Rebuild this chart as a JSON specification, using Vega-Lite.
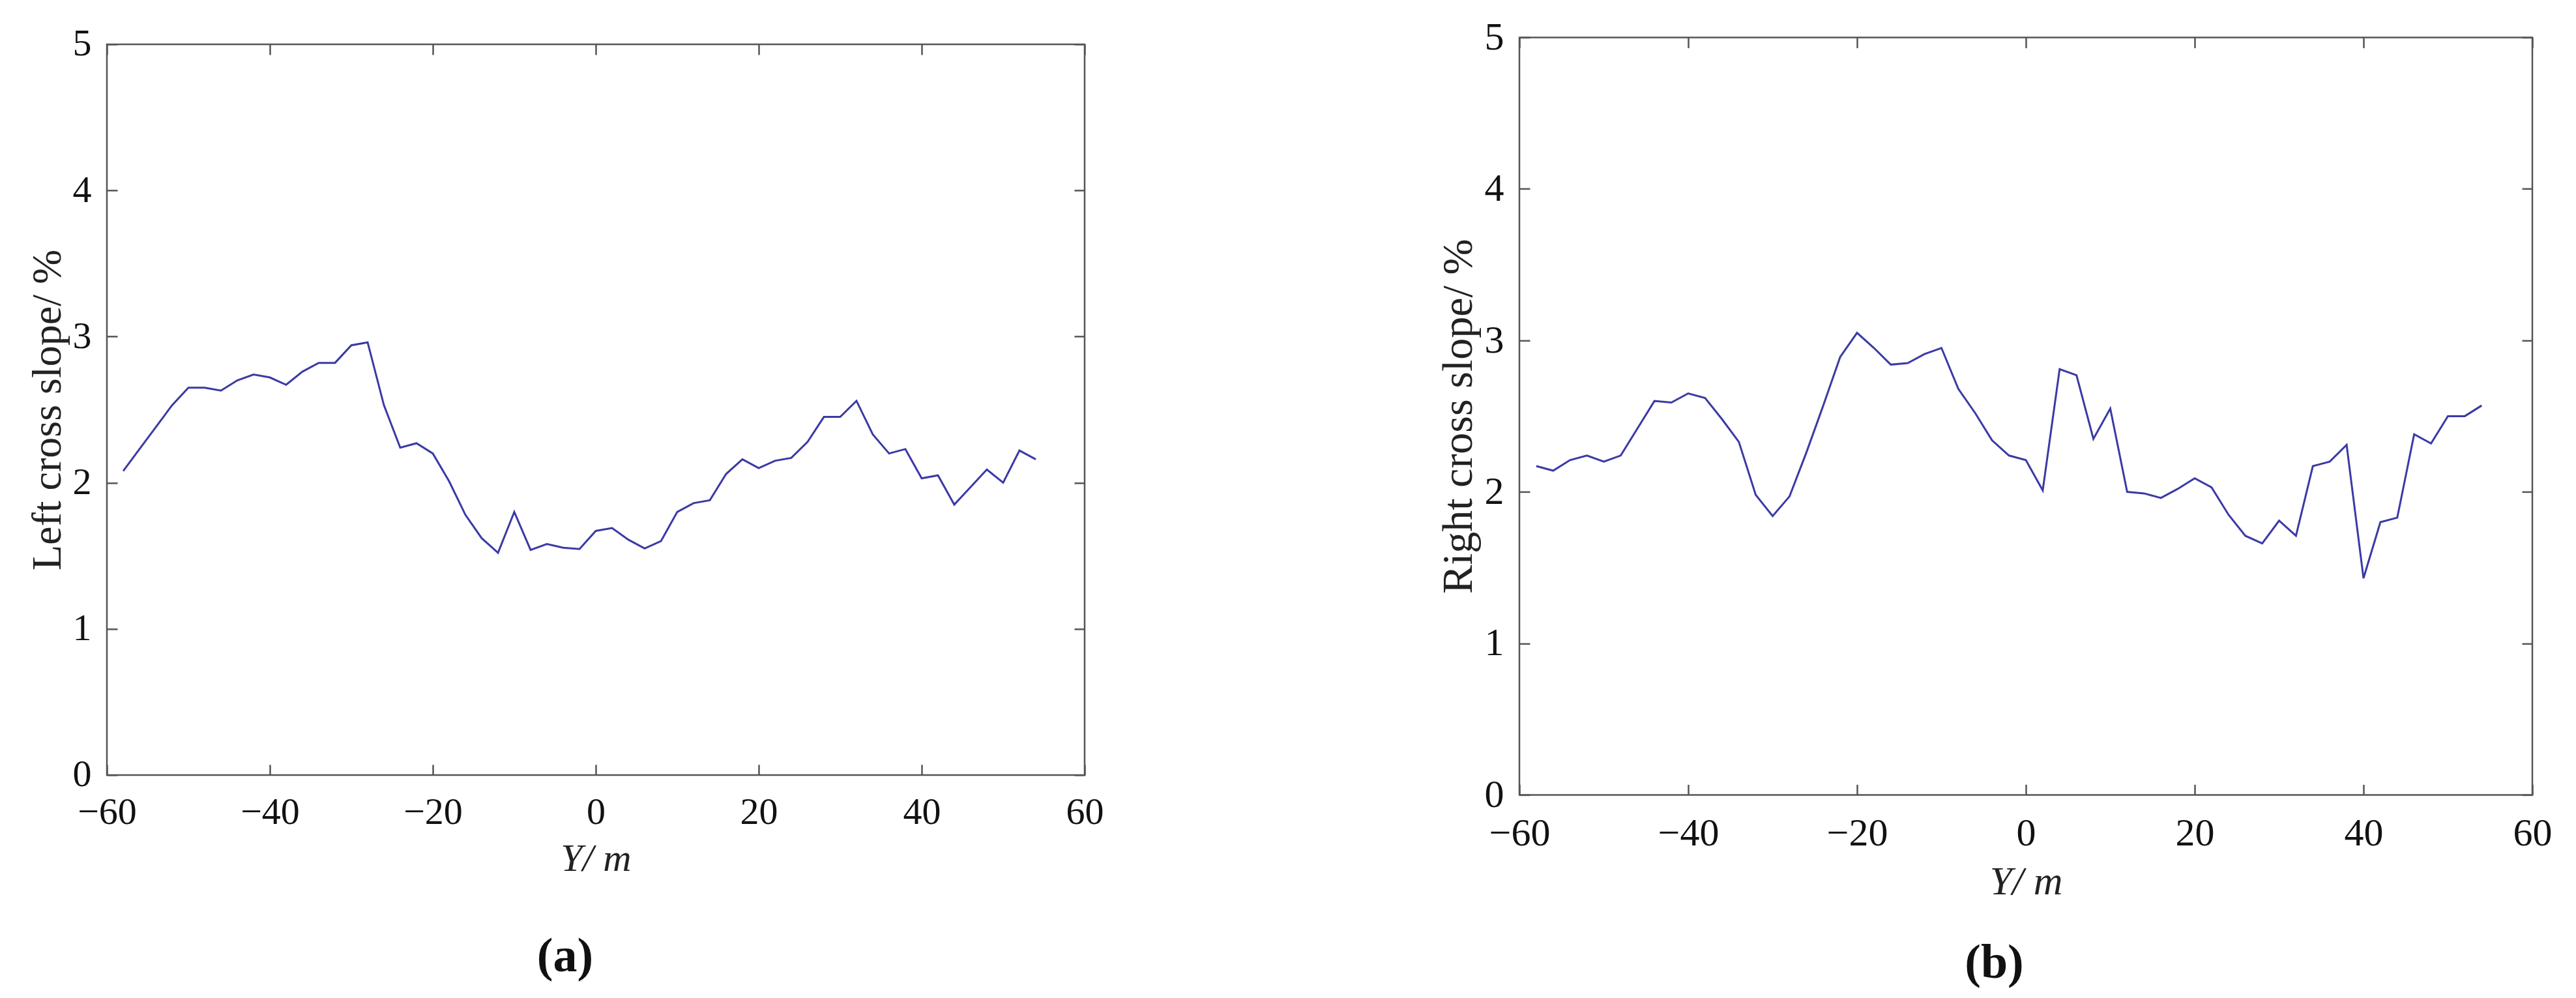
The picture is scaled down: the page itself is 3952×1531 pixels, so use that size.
{
  "$schema": "https://vega.github.io/schema/vega-lite/v6.json",
  "padding": {"left": 39, "top": 1, "right": 0, "bottom": 0},
  "background": "white",
  "config": {
    "font": "Liberation Serif",
    "view": {"stroke": "#555555", "strokeWidth": 2.5},
    "axis": {
      "domain": false, "grid": false, "labelFlush": false,
      "tickColor": "#555555", "tickWidth": 2.5, "tickSize": -16,
      "labelPadding": 40, "labelFont": "Liberation Serif", "labelColor": "#111111",
      "titleFont": "Liberation Serif", "titleColor": "#222222", "titleFontWeight": "normal"
    },
    "title": {"font": "Liberation Serif", "color": "#111111"}
  },
  "datasets": {
    "left": [
      {"y_m": -58, "slope": 2.08}, {"y_m": -56, "slope": 2.23}, {"y_m": -54, "slope": 2.38}, {"y_m": -52, "slope": 2.53},
      {"y_m": -50, "slope": 2.65}, {"y_m": -48, "slope": 2.65}, {"y_m": -46, "slope": 2.63}, {"y_m": -44, "slope": 2.70},
      {"y_m": -42, "slope": 2.74}, {"y_m": -40, "slope": 2.72}, {"y_m": -38, "slope": 2.67}, {"y_m": -36, "slope": 2.76},
      {"y_m": -34, "slope": 2.82}, {"y_m": -32, "slope": 2.82}, {"y_m": -30, "slope": 2.94}, {"y_m": -28, "slope": 2.96},
      {"y_m": -26, "slope": 2.53}, {"y_m": -24, "slope": 2.24}, {"y_m": -22, "slope": 2.27}, {"y_m": -20, "slope": 2.20},
      {"y_m": -18, "slope": 2.01}, {"y_m": -16, "slope": 1.78}, {"y_m": -14, "slope": 1.62}, {"y_m": -12, "slope": 1.52},
      {"y_m": -10, "slope": 1.80}, {"y_m": -8, "slope": 1.54}, {"y_m": -6, "slope": 1.58}, {"y_m": -4, "slope": 1.555},
      {"y_m": -2, "slope": 1.546}, {"y_m": 0, "slope": 1.67}, {"y_m": 2, "slope": 1.69}, {"y_m": 4, "slope": 1.61},
      {"y_m": 6, "slope": 1.55}, {"y_m": 8, "slope": 1.60}, {"y_m": 10, "slope": 1.80}, {"y_m": 12, "slope": 1.86},
      {"y_m": 14, "slope": 1.88}, {"y_m": 16, "slope": 2.06}, {"y_m": 18, "slope": 2.16}, {"y_m": 20, "slope": 2.10},
      {"y_m": 22, "slope": 2.15}, {"y_m": 24, "slope": 2.17}, {"y_m": 26, "slope": 2.28}, {"y_m": 28, "slope": 2.45},
      {"y_m": 30, "slope": 2.45}, {"y_m": 32, "slope": 2.56}, {"y_m": 34, "slope": 2.33}, {"y_m": 36, "slope": 2.20},
      {"y_m": 38, "slope": 2.23}, {"y_m": 40, "slope": 2.03}, {"y_m": 42, "slope": 2.05}, {"y_m": 44, "slope": 1.85},
      {"y_m": 46, "slope": 1.97}, {"y_m": 48, "slope": 2.09}, {"y_m": 50, "slope": 2.00}, {"y_m": 52, "slope": 2.22},
      {"y_m": 54, "slope": 2.16}
    ],
    "right": [
      {"y_m": -58, "slope": 2.17}, {"y_m": -56, "slope": 2.14}, {"y_m": -54, "slope": 2.21}, {"y_m": -52, "slope": 2.24},
      {"y_m": -50, "slope": 2.20}, {"y_m": -48, "slope": 2.24}, {"y_m": -46, "slope": 2.42}, {"y_m": -44, "slope": 2.60},
      {"y_m": -42, "slope": 2.59}, {"y_m": -40, "slope": 2.65}, {"y_m": -38, "slope": 2.62}, {"y_m": -36, "slope": 2.48},
      {"y_m": -34, "slope": 2.33}, {"y_m": -32, "slope": 1.98}, {"y_m": -30, "slope": 1.84}, {"y_m": -28, "slope": 1.97},
      {"y_m": -26, "slope": 2.26}, {"y_m": -24, "slope": 2.57}, {"y_m": -22, "slope": 2.89}, {"y_m": -20, "slope": 3.05},
      {"y_m": -18, "slope": 2.95}, {"y_m": -16, "slope": 2.84}, {"y_m": -14, "slope": 2.85}, {"y_m": -12, "slope": 2.91},
      {"y_m": -10, "slope": 2.95}, {"y_m": -8, "slope": 2.68}, {"y_m": -6, "slope": 2.52}, {"y_m": -4, "slope": 2.34},
      {"y_m": -2, "slope": 2.24}, {"y_m": 0, "slope": 2.21}, {"y_m": 2, "slope": 2.01}, {"y_m": 4, "slope": 2.81},
      {"y_m": 6, "slope": 2.77}, {"y_m": 8, "slope": 2.35}, {"y_m": 10, "slope": 2.55}, {"y_m": 12, "slope": 2.00},
      {"y_m": 14, "slope": 1.99}, {"y_m": 16, "slope": 1.96}, {"y_m": 18, "slope": 2.02}, {"y_m": 20, "slope": 2.09},
      {"y_m": 22, "slope": 2.03}, {"y_m": 24, "slope": 1.85}, {"y_m": 26, "slope": 1.71}, {"y_m": 28, "slope": 1.66},
      {"y_m": 30, "slope": 1.81}, {"y_m": 32, "slope": 1.71}, {"y_m": 34, "slope": 2.17}, {"y_m": 36, "slope": 2.20},
      {"y_m": 38, "slope": 2.31}, {"y_m": 40, "slope": 1.43}, {"y_m": 42, "slope": 1.80}, {"y_m": 44, "slope": 1.83},
      {"y_m": 46, "slope": 2.38}, {"y_m": 48, "slope": 2.32}, {"y_m": 50, "slope": 2.50}, {"y_m": 52, "slope": 2.50},
      {"y_m": 54, "slope": 2.57}
    ]
  },
  "spacing": 507,
  "center": true,
  "hconcat": [
    {
      "width": 1500, "height": 1121,
      "data": {"name": "left"},
      "title": {"text": "(a)", "orient": "bottom", "anchor": "middle", "frame": "bounds", "fontSize": 74, "fontWeight": "bold", "offset": 84},
      "resolve": {"axis": {"x": "independent", "y": "independent"}},
      "layer": [
        {
          "mark": {"type": "line", "color": "#3a3aa6", "strokeWidth": 3},
          "encoding": {
            "x": {"field": "y_m", "type": "quantitative", "scale": {"domain": [-60, 60]},
                  "axis": {"orient": "bottom", "values": [-60, -40, -20, 0, 20, 40, 60], "title": "Y/ m",
                           "titleFontStyle": "italic", "labelFontSize": 58, "titleFontSize": 60,
                           "labelPadding": 45, "titlePadding": 13}},
            "y": {"field": "slope", "type": "quantitative", "scale": {"domain": [0, 5]},
                  "axis": {"orient": "left", "values": [0, 1, 2, 3, 4, 5], "title": "Left cross slope/ %",
                           "labelFontSize": 58, "titleFontSize": 64, "titlePadding": 6}}
          }
        },
        {
          "mark": {"type": "line", "strokeOpacity": 0},
          "encoding": {
            "x": {"field": "y_m", "type": "quantitative", "scale": {"domain": [-60, 60]},
                  "axis": {"orient": "top", "values": [-60, -40, -20, 0, 20, 40, 60], "labels": false,
                           "title": ".", "titleFontSize": 20, "titleOpacity": 0, "titlePadding": 44}},
            "y": {"field": "slope", "type": "quantitative", "scale": {"domain": [0, 5]},
                  "axis": {"orient": "right", "values": [0, 1, 2, 3, 4, 5], "labels": false, "title": null}}
          }
        }
      ]
    },
    {
      "width": 1554, "height": 1162,
      "data": {"name": "right"},
      "title": {"text": "(b)", "orient": "bottom", "anchor": "middle", "frame": "bounds", "fontSize": 74, "fontWeight": "bold", "offset": 59},
      "resolve": {"axis": {"x": "independent", "y": "independent"}},
      "layer": [
        {
          "mark": {"type": "line", "color": "#3a3aa6", "strokeWidth": 3},
          "encoding": {
            "x": {"field": "y_m", "type": "quantitative", "scale": {"domain": [-60, 60]},
                  "axis": {"orient": "bottom", "values": [-60, -40, -20, 0, 20, 40, 60], "title": "Y/ m",
                           "titleFontStyle": "italic", "labelFontSize": 60, "titleFontSize": 62,
                           "labelPadding": 46, "titlePadding": 14}},
            "y": {"field": "slope", "type": "quantitative", "scale": {"domain": [0, 5]},
                  "axis": {"orient": "left", "values": [0, 1, 2, 3, 4, 5], "title": "Right cross slope/ %",
                           "labelFontSize": 60, "titleFontSize": 66, "titlePadding": 6}}
          }
        },
        {
          "mark": {"type": "line", "strokeOpacity": 0},
          "encoding": {
            "x": {"field": "y_m", "type": "quantitative", "scale": {"domain": [-60, 60]},
                  "axis": {"orient": "top", "values": [-60, -40, -20, 0, 20, 40, 60], "labels": false, "title": null}},
            "y": {"field": "slope", "type": "quantitative", "scale": {"domain": [0, 5]},
                  "axis": {"orient": "right", "values": [0, 1, 2, 3, 4, 5], "labels": false, "title": null}}
          }
        }
      ]
    }
  ]
}
